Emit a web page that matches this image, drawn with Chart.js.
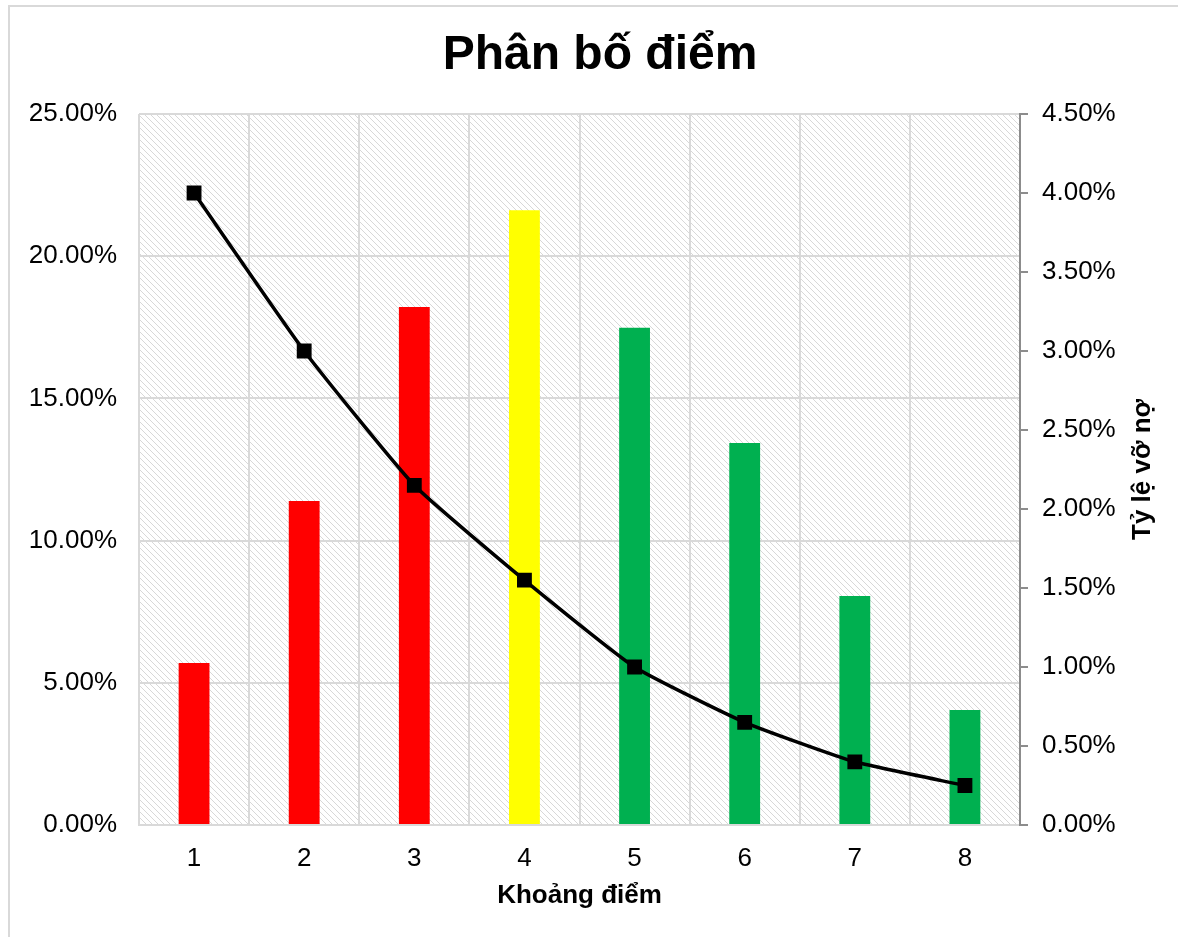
<!DOCTYPE html>
<html>
<head>
<meta charset="utf-8">
<script src="https://cdn.jsdelivr.net/npm/chart.js@4/dist/chart.umd.min.js"></script>
<style>
  body { margin: 0; background: #fff; }
  canvas { display: block; }
</style>
</head>
<body>
<canvas id="chart" width="1178" height="937"></canvas>
<script>
// Data (percent units)
const categories = ['1', '2', '3', '4', '5', '6', '7', '8'];
const shareValues = [5.70, 11.39, 18.21, 21.62, 17.48, 13.43, 8.05, 4.04];
const defaultRate = [4.00, 3.00, 2.15, 1.55, 1.00, 0.65, 0.40, 0.25];
const barColors = ['#FF0000', '#FF0000', '#FF0000', '#FFFF00', '#00B050', '#00B050', '#00B050', '#00B050'];
const leftTicks = [0, 5, 10, 15, 20, 25];
const rightTicks = [0, 0.5, 1, 1.5, 2, 2.5, 3, 3.5, 4, 4.5];

const FONT = "'Liberation Sans', Arial, sans-serif";

// hatched background for the plot area
function makeHatch() {
  const c = document.createElement('canvas');
  c.width = 6; c.height = 6;
  const g = c.getContext('2d');
  g.fillStyle = '#fff';
  g.fillRect(0, 0, 6, 6);
  g.fillStyle = '#d8d8d8';
  for (let i = 0; i < 6; i++) {
    g.fillRect(i, i, 1, 1);
  }
  return c;
}

const framePlugin = {
  id: 'frame',
  beforeDraw(chart) {
    const { ctx, chartArea } = chart;
    ctx.save();
    ctx.fillStyle = '#fff';
    ctx.fillRect(0, 0, chart.width, chart.height);
    ctx.strokeStyle = '#d9d9d9';
    ctx.lineWidth = 2;
    ctx.strokeRect(9, 6, chart.width + 10, chart.height + 10);
    ctx.fillStyle = ctx.createPattern(makeHatch(), 'repeat');
    ctx.fillRect(chartArea.left, chartArea.top, chartArea.right - chartArea.left, chartArea.bottom - chartArea.top);
    ctx.restore();
  },
  afterDraw(chart) {
    const { ctx, chartArea } = chart;
    ctx.save();
    ctx.fillStyle = '#000';
    ctx.textAlign = 'center';
    ctx.textBaseline = 'middle';
    // chart title
    ctx.font = 'bold 48px ' + FONT;
    ctx.fillText('Phân bố điểm', 600, 56);
    // right axis title reads bottom-to-top
    ctx.translate(1143, (chartArea.top + chartArea.bottom) / 2);
    ctx.rotate(-Math.PI / 2);
    ctx.font = 'bold 26px ' + FONT;
    ctx.fillText('Tỷ lệ vỡ nợ', 0, 0);
    ctx.restore();
  }
};

const fmt = (v) => Number(v).toFixed(2) + '%';

new Chart(document.getElementById('chart').getContext('2d'), {
  type: 'bar',
  data: {
    labels: categories,
    datasets: [
      {
        type: 'line',
        label: 'Tỷ lệ vỡ nợ',
        data: defaultRate,
        yAxisID: 'y2',
        borderColor: '#000',
        borderWidth: 3.5,
        backgroundColor: '#000',
        pointStyle: 'rect',
        pointRadius: 10.5,
        pointBorderWidth: 0,
        tension: 0.15,
        order: 0
      },
      {
        label: 'Phân bố',
        data: shareValues,
        yAxisID: 'y',
        backgroundColor: barColors,
        barPercentage: 0.28,
        categoryPercentage: 1,
        order: 1
      }
    ]
  },
  options: {
    responsive: false,
    animation: false,
    layout: { padding: { top: 114 } },
    plugins: {
      legend: { display: false },
      tooltip: { enabled: false },
      title: { display: false }
    },
    scales: {
      x: {
        grid: { color: '#d9d9d9', lineWidth: 2, drawTicks: false },
        border: { color: '#d9d9d9', width: 2 },
        ticks: { color: '#000', padding: 18, font: { family: FONT, size: 26 } },
        title: {
          display: true,
          text: 'Khoảng điểm',
          color: '#000',
          font: { family: FONT, size: 26, weight: 'bold', lineHeight: 1.2 },
          padding: { top: 0, bottom: 26 }
        },
        afterFit(scale) { scale.height = 112; }
      },
      y: {
        position: 'left',
        min: 0,
        max: 25,
        afterBuildTicks(scale) { scale.ticks = leftTicks.map(v => ({ value: v })); },
        grid: { color: '#d9d9d9', lineWidth: 2, drawTicks: false },
        border: { display: false },
        ticks: { color: '#000', padding: 22, font: { family: FONT, size: 26 }, callback: fmt },
        afterFit(scale) { scale.width = 139; }
      },
      y2: {
        position: 'right',
        min: 0,
        max: 4.5,
        afterBuildTicks(scale) { scale.ticks = rightTicks.map(v => ({ value: v })); },
        grid: { drawOnChartArea: false, color: '#8c8c8c', tickLength: 8, lineWidth: 2 },
        border: { color: '#8c8c8c', width: 2 },
        ticks: { color: '#000', padding: 14, font: { family: FONT, size: 26 }, callback: fmt },
        afterFit(scale) { scale.width = 158; }
      }
    }
  },
  plugins: [framePlugin]
});
</script>
</body>
</html>
